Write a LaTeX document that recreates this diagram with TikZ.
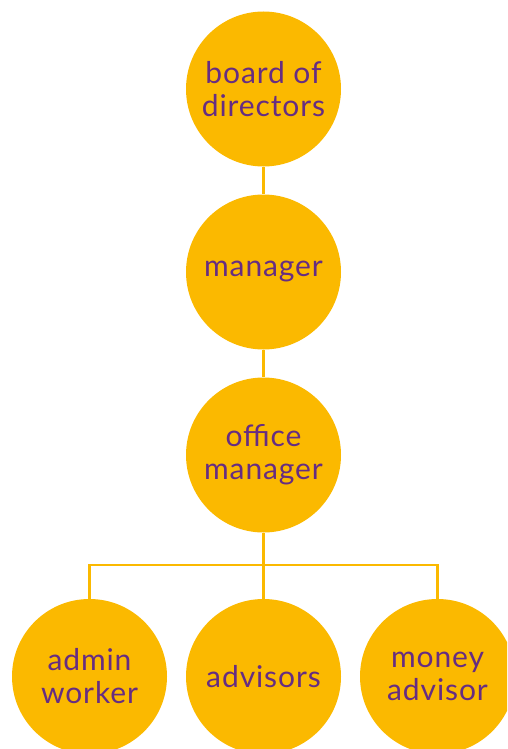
\documentclass[tikz,border=0pt]{standalone}
\usepackage{fontspec}
\setmainfont{Lato}[LetterSpace=3]
\definecolor{gold}{HTML}{FBB900}
\definecolor{plum}{HTML}{662D82}
\begin{document}
\begin{tikzpicture}[x=1pt,y=-1pt,
  role/.style={circle, fill=gold, minimum size=155pt, inner sep=0pt,
    text=plum, align=center, font=\fontsize{30}{33}\selectfont},
  link/.style={draw=gold, line width=2.6pt}]
\useasboundingbox (0,0) rectangle (507,749);
\clip (0,0) rectangle (507,749);
% junction where the three lower branches split
\coordinate (bus) at (263.5,565);
\node[role] (board) at (263.5,89) {board of\\directors};
\node[role] (mgr) at (263.5,272) {manager};
\node[role] (office) at (263.5,455) {office\\manager};
\node[role] (admin) at (89.5,676.5) {admin\\worker};
\node[role] (adv) at (263.5,676.5) {advisors};
\node[role] (money) at (437.5,676.5) {money\\advisor};
% reporting lines
\draw[link] (board.south) -- (mgr.north);
\draw[link] (mgr.south) -- (office.north);
\draw[link] (office.south) -- (adv.north);
\draw[link] (bus) -| (admin.north);
\draw[link] (bus) -| (money.north);
\end{tikzpicture}
\end{document}
